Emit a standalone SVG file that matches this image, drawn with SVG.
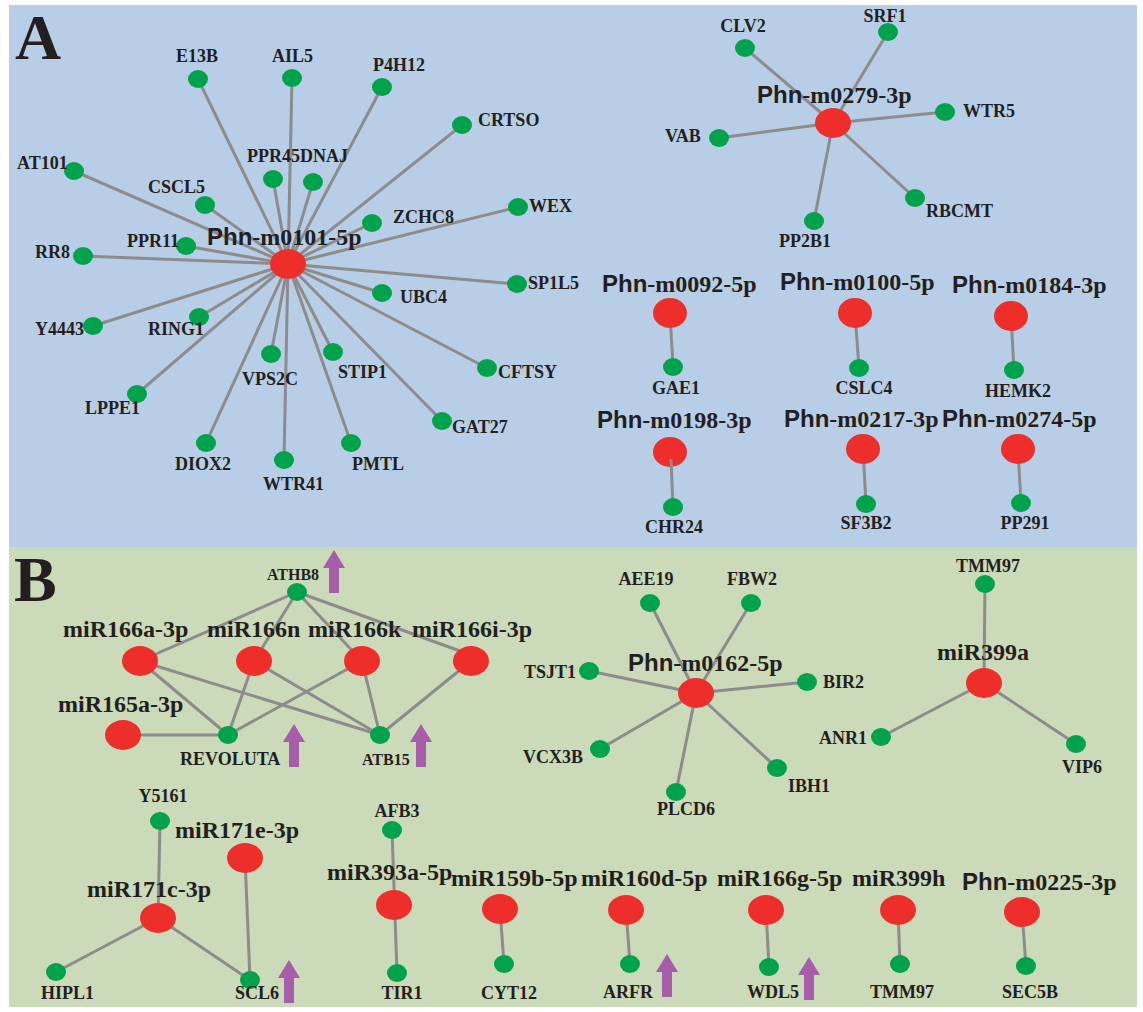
<svg xmlns="http://www.w3.org/2000/svg" xmlns:xlink="http://www.w3.org/1999/xlink" width="1143" height="1012" viewBox="0 0 1143 1012">
<style>
.g{fill:#00a24c}
.r{fill:#ee2e2a}
.e line{stroke:#8c8c8c;stroke-width:3}
.gl{font-family:"Liberation Serif",serif;font-weight:bold;font-size:18px;fill:#231f20}
.sm{font-size:16px}
.ml{font-family:"Liberation Serif",serif;font-weight:bold;font-size:24px;fill:#231f20}
.phn{font-family:"Liberation Sans",sans-serif}
.big{font-family:"Liberation Serif",serif;font-weight:bold;font-size:64px;fill:#231f20}
.arr{fill:#a65eaa}
.c{text-anchor:middle}
</style>
<defs>
<path id="up" d="M0,0 L11,18 L5,18 L5,43 L-5,43 L-5,18 L-11,18 Z"/>
</defs>
<rect x="0" y="0" width="1143" height="1012" fill="#ffffff"/>
<rect x="9" y="5" width="1128" height="542" fill="#b8cee6"/>
<rect x="9" y="547" width="1128" height="460" fill="#cbdab8"/>
<text class="big" x="15" y="59">A</text>
<text class="big" x="14" y="601">B</text>

<g id="connectors" class="e">
<line x1="288" y1="264" x2="198" y2="79"/>
<line x1="288" y1="264" x2="292" y2="78"/>
<line x1="288" y1="264" x2="382" y2="87"/>
<line x1="288" y1="264" x2="462" y2="125"/>
<line x1="288" y1="264" x2="273" y2="179"/>
<line x1="288" y1="264" x2="313" y2="182"/>
<line x1="288" y1="264" x2="74" y2="171"/>
<line x1="288" y1="264" x2="205" y2="205"/>
<line x1="288" y1="264" x2="372" y2="223"/>
<line x1="288" y1="264" x2="518" y2="207"/>
<line x1="288" y1="264" x2="186" y2="246"/>
<line x1="288" y1="264" x2="83" y2="256"/>
<line x1="288" y1="264" x2="517" y2="284"/>
<line x1="288" y1="264" x2="382" y2="293"/>
<line x1="288" y1="264" x2="93" y2="326"/>
<line x1="288" y1="264" x2="199" y2="317"/>
<line x1="288" y1="264" x2="271" y2="354"/>
<line x1="288" y1="264" x2="333" y2="352"/>
<line x1="288" y1="264" x2="487" y2="368"/>
<line x1="288" y1="264" x2="137" y2="394"/>
<line x1="288" y1="264" x2="442" y2="421"/>
<line x1="288" y1="264" x2="206" y2="443"/>
<line x1="288" y1="264" x2="351" y2="443"/>
<line x1="288" y1="264" x2="284" y2="460"/>
<line x1="833" y1="123" x2="745" y2="48"/>
<line x1="833" y1="123" x2="888" y2="32"/>
<line x1="833" y1="123" x2="945" y2="112"/>
<line x1="833" y1="123" x2="719" y2="138"/>
<line x1="833" y1="123" x2="915" y2="198"/>
<line x1="833" y1="123" x2="814" y2="221"/>
<line x1="670" y1="313" x2="673" y2="367"/>
<line x1="855" y1="313" x2="859" y2="368"/>
<line x1="1011" y1="316" x2="1014" y2="370"/>
<line x1="863" y1="449" x2="866" y2="504"/>
<line x1="1018" y1="449" x2="1021" y2="503"/>
<line x1="297" y1="592" x2="140" y2="661"/>
<line x1="297" y1="592" x2="254" y2="661"/>
<line x1="297" y1="592" x2="362" y2="661"/>
<line x1="297" y1="592" x2="471" y2="655"/>
<line x1="140" y1="661" x2="228" y2="735"/>
<line x1="140" y1="661" x2="380" y2="735"/>
<line x1="254" y1="661" x2="228" y2="735"/>
<line x1="254" y1="661" x2="380" y2="735"/>
<line x1="362" y1="661" x2="228" y2="735"/>
<line x1="362" y1="661" x2="380" y2="735"/>
<line x1="471" y1="661" x2="380" y2="735"/>
<line x1="123" y1="735" x2="228" y2="735"/>
<line x1="696" y1="693" x2="650" y2="603"/>
<line x1="696" y1="693" x2="751" y2="603"/>
<line x1="696" y1="693" x2="589" y2="671"/>
<line x1="696" y1="693" x2="807" y2="682"/>
<line x1="696" y1="693" x2="600" y2="749"/>
<line x1="696" y1="693" x2="777" y2="768"/>
<line x1="696" y1="693" x2="676" y2="792"/>
<line x1="984" y1="683" x2="985" y2="584"/>
<line x1="984" y1="683" x2="881" y2="737"/>
<line x1="984" y1="683" x2="1076" y2="744"/>
<line x1="158" y1="918" x2="160" y2="821"/>
<line x1="158" y1="918" x2="56" y2="972"/>
<line x1="158" y1="918" x2="250" y2="980"/>
<line x1="245" y1="858" x2="250" y2="980"/>
<line x1="392" y1="830" x2="397" y2="973"/>
<line x1="500" y1="909" x2="504" y2="964"/>
<line x1="626" y1="910" x2="630" y2="964"/>
<line x1="766" y1="910" x2="769" y2="967"/>
<line x1="898" y1="910" x2="900" y2="964"/>
<line x1="1022" y1="912" x2="1026" y2="966"/>
</g>

<g id="n-m0101"><ellipse class="r" cx="288" cy="264" rx="18" ry="15"/><text class="ml" x="207" y="245"><tspan class="phn">Phn</tspan>-m0101-5p</text></g>
<g id="n-E13B"><ellipse class="g" cx="198" cy="79" rx="10" ry="9"/><text class="gl" x="176" y="62">E13B</text></g>
<g id="n-AIL5"><ellipse class="g" cx="292" cy="78" rx="10" ry="9"/><text class="gl" x="272" y="62">AIL5</text></g>
<g id="n-P4H12"><ellipse class="g" cx="382" cy="87" rx="10" ry="9"/><text class="gl" x="373" y="71">P4H12</text></g>
<g id="n-CRTSO"><ellipse class="g" cx="462" cy="125" rx="10" ry="9"/><text class="gl" x="478" y="126">CRTSO</text></g>
<g id="n-PPR45"><ellipse class="g" cx="273" cy="179" rx="10" ry="9"/><text class="gl" x="247" y="162">PPR45</text></g>
<g id="n-DNAJ"><ellipse class="g" cx="313" cy="182" rx="10" ry="9"/><text class="gl" x="300" y="162">DNAJ</text></g>
<g id="n-AT101"><ellipse class="g" cx="74" cy="171" rx="10" ry="9"/><text class="gl" x="17" y="169">AT101</text></g>
<g id="n-CSCL5"><ellipse class="g" cx="205" cy="205" rx="10" ry="9"/><text class="gl" x="148" y="193">CSCL5</text></g>
<g id="n-ZCHC8"><ellipse class="g" cx="372" cy="223" rx="10" ry="9"/><text class="gl" x="393" y="223">ZCHC8</text></g>
<g id="n-WEX"><ellipse class="g" cx="518" cy="207" rx="10" ry="9"/><text class="gl" x="529" y="212">WEX</text></g>
<g id="n-PPR11"><ellipse class="g" cx="186" cy="246" rx="10" ry="9"/><text class="gl" x="127" y="247">PPR11</text></g>
<g id="n-RR8"><ellipse class="g" cx="83" cy="256" rx="10" ry="9"/><text class="gl" x="35" y="258">RR8</text></g>
<g id="n-SP1L5"><ellipse class="g" cx="517" cy="284" rx="10" ry="9"/><text class="gl" x="528" y="289">SP1L5</text></g>
<g id="n-UBC4"><ellipse class="g" cx="382" cy="293" rx="10" ry="9"/><text class="gl" x="400" y="303">UBC4</text></g>
<g id="n-Y4443"><ellipse class="g" cx="93" cy="326" rx="10" ry="9"/><text class="gl" x="35" y="335">Y4443</text></g>
<g id="n-RING1"><ellipse class="g" cx="199" cy="317" rx="10" ry="9"/><text class="gl" x="148" y="335">RING1</text></g>
<g id="n-VPS2C"><ellipse class="g" cx="271" cy="354" rx="10" ry="9"/><text class="gl" x="242" y="385">VPS2C</text></g>
<g id="n-STIP1"><ellipse class="g" cx="333" cy="352" rx="10" ry="9"/><text class="gl" x="338" y="378">STIP1</text></g>
<g id="n-CFTSY"><ellipse class="g" cx="487" cy="368" rx="10" ry="9"/><text class="gl" x="498" y="378">CFTSY</text></g>
<g id="n-LPPE1"><ellipse class="g" cx="137" cy="394" rx="10" ry="9"/><text class="gl" x="85" y="414">LPPE1</text></g>
<g id="n-GAT27"><ellipse class="g" cx="442" cy="421" rx="10" ry="9"/><text class="gl" x="452" y="433">GAT27</text></g>
<g id="n-DIOX2"><ellipse class="g" cx="206" cy="443" rx="10" ry="9"/><text class="gl" x="175" y="470">DIOX2</text></g>
<g id="n-PMTL"><ellipse class="g" cx="351" cy="443" rx="10" ry="9"/><text class="gl" x="352" y="470">PMTL</text></g>
<g id="n-WTR41"><ellipse class="g" cx="284" cy="460" rx="10" ry="9"/><text class="gl" x="263" y="490">WTR41</text></g>

<g id="n-m0279"><ellipse class="r" cx="833" cy="123" rx="18" ry="15"/><text class="ml" x="757" y="103"><tspan class="phn">Phn</tspan>-m0279-3p</text></g>
<g id="n-CLV2"><ellipse class="g" cx="745" cy="48" rx="10" ry="9"/><text class="gl c" x="743" y="32">CLV2</text></g>
<g id="n-SRF1"><ellipse class="g" cx="888" cy="32" rx="10" ry="9"/><text class="gl c" x="885" y="22">SRF1</text></g>
<g id="n-WTR5"><ellipse class="g" cx="945" cy="112" rx="10" ry="9"/><text class="gl" x="963" y="117">WTR5</text></g>
<g id="n-VAB"><ellipse class="g" cx="719" cy="138" rx="10" ry="9"/><text class="gl" x="665" y="142">VAB</text></g>
<g id="n-RBCMT"><ellipse class="g" cx="915" cy="198" rx="10" ry="9"/><text class="gl" x="926" y="217">RBCMT</text></g>
<g id="n-PP2B1"><ellipse class="g" cx="814" cy="221" rx="10" ry="9"/><text class="gl c" x="805" y="247">PP2B1</text></g>

<g id="n-m0092"><ellipse class="r" cx="670" cy="313" rx="17" ry="15"/><text class="ml" x="602" y="292"><tspan class="phn">Phn</tspan>-m0092-5p</text></g>
<g id="n-GAE1"><ellipse class="g" cx="673" cy="367" rx="10" ry="9"/><text class="gl c" x="676" y="394">GAE1</text></g>
<g id="n-m0100"><ellipse class="r" cx="855" cy="313" rx="17" ry="15"/><text class="ml" x="780" y="290"><tspan class="phn">Phn</tspan>-m0100-5p</text></g>
<g id="n-CSLC4"><ellipse class="g" cx="859" cy="368" rx="10" ry="9"/><text class="gl c" x="864" y="394">CSLC4</text></g>
<g id="n-m0184"><ellipse class="r" cx="1011" cy="316" rx="17" ry="15"/><text class="ml" x="952" y="293"><tspan class="phn">Phn</tspan>-m0184-3p</text></g>
<g id="n-HEMK2"><ellipse class="g" cx="1014" cy="370" rx="10" ry="9"/><text class="gl c" x="1018" y="397">HEMK2</text></g>
<g id="n-m0198"><ellipse class="r" cx="670" cy="452" rx="17" ry="15"/><text class="ml" x="597" y="428"><tspan class="phn">Phn</tspan>-m0198-3p</text></g>
<line x1="671" y1="459" x2="673" y2="507" stroke="#8c8c8c" stroke-width="3"/>
<g id="n-CHR24"><ellipse class="g" cx="673" cy="507" rx="10" ry="9"/><text class="gl c" x="674" y="533">CHR24</text></g>
<g id="n-m0217"><ellipse class="r" cx="863" cy="449" rx="17" ry="15"/><text class="ml" x="784" y="427"><tspan class="phn">Phn</tspan>-m0217-3p</text></g>
<g id="n-SF3B2"><ellipse class="g" cx="866" cy="504" rx="10" ry="9"/><text class="gl c" x="866" y="529">SF3B2</text></g>
<g id="n-m0274"><ellipse class="r" cx="1018" cy="449" rx="17" ry="15"/><text class="ml" x="942" y="427"><tspan class="phn">Phn</tspan>-m0274-5p</text></g>
<g id="n-PP291"><ellipse class="g" cx="1021" cy="503" rx="10" ry="9"/><text class="gl c" x="1025" y="529">PP291</text></g>

<g id="n-ATHB8"><ellipse class="g" cx="297" cy="592" rx="10" ry="9"/><text class="gl sm c" x="293" y="580">ATHB8</text></g>
<g id="n-miR166a-3p"><ellipse class="r" cx="140" cy="661" rx="18" ry="15"/><text class="ml" x="63" y="637">miR166a-3p</text></g>
<g id="n-miR166n"><ellipse class="r" cx="254" cy="661" rx="18" ry="15"/><text class="ml" x="207" y="637">miR166n</text></g>
<g id="n-miR166k"><ellipse class="r" cx="362" cy="661" rx="18" ry="15"/><text class="ml" x="308" y="637">miR166k</text></g>
<g id="n-miR166i-3p"><ellipse class="r" cx="471" cy="661" rx="18" ry="15"/><text class="ml" x="412" y="637">miR166i-3p</text></g>
<g id="n-miR165a-3p"><ellipse class="r" cx="123" cy="735" rx="18" ry="15"/><text class="ml" x="58" y="712">miR165a-3p</text></g>
<g id="n-REVOLUTA"><ellipse class="g" cx="228" cy="735" rx="10" ry="9"/><text class="gl" x="180" y="765">REVOLUTA</text></g>
<g id="n-ATB15"><ellipse class="g" cx="380" cy="735" rx="10" ry="9"/><text class="gl sm" x="362" y="765">ATB15</text></g>

<g id="n-m0162"><ellipse class="r" cx="696" cy="693" rx="18" ry="15"/><text class="ml" x="628" y="671"><tspan class="phn">Phn</tspan>-m0162-5p</text></g>
<g id="n-AEE19"><ellipse class="g" cx="650" cy="603" rx="10" ry="9"/><text class="gl c" x="646" y="585">AEE19</text></g>
<g id="n-FBW2"><ellipse class="g" cx="751" cy="603" rx="10" ry="9"/><text class="gl c" x="752" y="585">FBW2</text></g>
<g id="n-TSJT1"><ellipse class="g" cx="589" cy="671" rx="10" ry="9"/><text class="gl" x="524" y="678">TSJT1</text></g>
<g id="n-BIR2"><ellipse class="g" cx="807" cy="682" rx="10" ry="9"/><text class="gl" x="823" y="688">BIR2</text></g>
<g id="n-VCX3B"><ellipse class="g" cx="600" cy="749" rx="10" ry="9"/><text class="gl" x="523" y="763">VCX3B</text></g>
<g id="n-IBH1"><ellipse class="g" cx="777" cy="768" rx="10" ry="9"/><text class="gl" x="788" y="792">IBH1</text></g>
<g id="n-PLCD6"><ellipse class="g" cx="676" cy="792" rx="10" ry="9"/><text class="gl c" x="686" y="815">PLCD6</text></g>

<g id="n-miR399a"><ellipse class="r" cx="984" cy="683" rx="18" ry="15"/><text class="ml" x="937" y="660">miR399a</text></g>
<g id="n-TMM97-a"><ellipse class="g" cx="985" cy="584" rx="10" ry="9"/><text class="gl c" x="988" y="572">TMM97</text></g>
<g id="n-ANR1"><ellipse class="g" cx="881" cy="737" rx="10" ry="9"/><text class="gl" x="819" y="744">ANR1</text></g>
<g id="n-VIP6"><ellipse class="g" cx="1076" cy="744" rx="10" ry="9"/><text class="gl c" x="1082" y="773">VIP6</text></g>

<g id="n-miR171c-3p"><ellipse class="r" cx="158" cy="918" rx="18" ry="15"/><text class="ml" x="87" y="897">miR171c-3p</text></g>
<g id="n-miR171e-3p"><ellipse class="r" cx="245" cy="858" rx="18" ry="15"/><text class="ml" x="175" y="838">miR171e-3p</text></g>
<g id="n-Y5161"><ellipse class="g" cx="160" cy="821" rx="10" ry="9"/><text class="gl c" x="163" y="802">Y5161</text></g>
<g id="n-HIPL1"><ellipse class="g" cx="56" cy="972" rx="10" ry="9"/><text class="gl" x="41" y="999">HIPL1</text></g>
<g id="n-SCL6"><ellipse class="g" cx="250" cy="980" rx="10" ry="9"/><text class="gl" x="235" y="999">SCL6</text></g>

<g id="n-miR393a-5p"><ellipse class="r" cx="394" cy="905" rx="18" ry="15"/><text class="ml" x="327" y="880">miR393a-5p</text></g>
<g id="n-AFB3"><ellipse class="g" cx="392" cy="830" rx="10" ry="9"/><text class="gl c" x="397" y="817">AFB3</text></g>
<g id="n-TIR1"><ellipse class="g" cx="397" cy="973" rx="10" ry="9"/><text class="gl c" x="402" y="999">TIR1</text></g>
<g id="n-miR159b-5p"><ellipse class="r" cx="500" cy="909" rx="18" ry="15"/><text class="ml" x="451" y="886">miR159b-5p</text></g>
<g id="n-CYT12"><ellipse class="g" cx="504" cy="964" rx="10" ry="9"/><text class="gl" x="481" y="999">CYT12</text></g>
<g id="n-miR160d-5p"><ellipse class="r" cx="626" cy="910" rx="18" ry="15"/><text class="ml" x="581" y="886">miR160d-5p</text></g>
<g id="n-ARFR"><ellipse class="g" cx="630" cy="964" rx="10" ry="9"/><text class="gl" x="603" y="998">ARFR</text></g>
<g id="n-miR166g-5p"><ellipse class="r" cx="766" cy="910" rx="18" ry="15"/><text class="ml" x="717" y="886">miR166g-5p</text></g>
<g id="n-WDL5"><ellipse class="g" cx="769" cy="967" rx="10" ry="9"/><text class="gl" x="747" y="998">WDL5</text></g>
<g id="n-miR399h"><ellipse class="r" cx="898" cy="910" rx="18" ry="15"/><text class="ml" x="852" y="886">miR399h</text></g>
<g id="n-TMM97-b"><ellipse class="g" cx="900" cy="964" rx="10" ry="9"/><text class="gl c" x="902" y="998">TMM97</text></g>
<g id="n-m0225"><ellipse class="r" cx="1022" cy="912" rx="18" ry="15"/><text class="ml" x="962" y="890"><tspan class="phn">Phn</tspan>-m0225-3p</text></g>
<g id="n-SEC5B"><ellipse class="g" cx="1026" cy="966" rx="10" ry="9"/><text class="gl c" x="1030" y="998">SEC5B</text></g>

<g id="arrows" class="arr">
<use xlink:href="#up" x="334" y="550"/>
<use xlink:href="#up" x="294" y="724"/>
<use xlink:href="#up" x="421" y="724"/>
<use xlink:href="#up" x="289" y="960"/>
<use xlink:href="#up" x="667" y="954"/>
<use xlink:href="#up" x="809" y="957"/>
</g>
</svg>
